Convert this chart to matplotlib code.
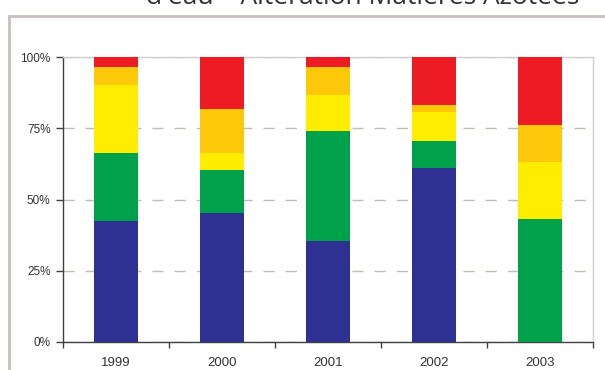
import numpy as np
import matplotlib
matplotlib.use("Agg")
import matplotlib.pyplot as plt
import matplotlib.ticker as mtick
from matplotlib.patches import Rectangle

plt.rcParams['font.family'] = ['Liberation Sans', 'DejaVu Sans']

years = ['1999', '2000', '2001', '2002', '2003']
# share of stations per quality class (%), bottom to top
tres_bonne = [42.4, 45.2, 35.4, 61.1, 0.0]
bonne = [23.9, 15.2, 38.7, 9.5, 43.1]
passable = [24.1, 5.9, 12.6, 10.2, 20.1]
mauvaise = [6.2, 15.5, 9.9, 2.4, 13.0]
tres_mauvaise = [3.4, 18.2, 3.4, 16.8, 23.8]

series = [tres_bonne, bonne, passable, mauvaise, tres_mauvaise]
colors = ['#2E3192', '#00A14B', '#FFED00', '#FDC80A', '#ED1C24']

fig = plt.figure(figsize=(6.05, 3.70), dpi=100)
ax = fig.add_axes([63/605, 1-341.7/370, (593-63)/605, (341.7-57.3)/370])

x = np.arange(len(years))
bottom = np.zeros(len(years))
for vals, c in zip(series, colors):
    ax.bar(x, vals, 0.41, bottom=bottom, color=c, zorder=3)
    bottom += np.array(vals)

ax.set_xlim(-0.5, len(years) - 0.5)
ax.set_ylim(0, 100)

ax.yaxis.set_major_locator(mtick.MultipleLocator(25))
ax.yaxis.set_major_formatter(mtick.FormatStrFormatter('%d%%'))
ax.grid(axis='y', color='#c4bab6', linestyle=(0, (8, 8)), linewidth=1, zorder=0)

ax.set_xticks(x)
ax.set_xticklabels(years)
ax.set_xticks(np.arange(-0.5, len(years)), minor=True)
ax.tick_params(axis='x', which='major', length=0, pad=11, labelsize=9.5, labelcolor='#333333')
ax.tick_params(axis='x', which='minor', length=4, width=1, color='#404040')
ax.tick_params(axis='y', length=5, width=1, pad=4, labelsize=8.5, labelcolor='#333333', color='#404040')

for s in ['left', 'bottom']:
    ax.spines[s].set_color('#404040')
    ax.spines[s].set_linewidth(1)
for s in ['top', 'right']:
    ax.spines[s].set_color('#d3cfcd')
    ax.spines[s].set_linewidth(1)

# outer frame of the chart area
fig.patches.append(Rectangle((9/605, -0.05), 1.1, 1.05 - 15.7/370, transform=fig.transFigure,
                             fill=False, edgecolor='#c9c0bc', linewidth=2, clip_on=False))

fig.text(363/605, 1 - 4.5/370, "d'eau – Altération Matières Azotées", ha='center', va='baseline',
         fontsize=19, color='#333333', family=['Open Sans', 'DejaVu Sans'])

fig.savefig('out.png', dpi=100)
